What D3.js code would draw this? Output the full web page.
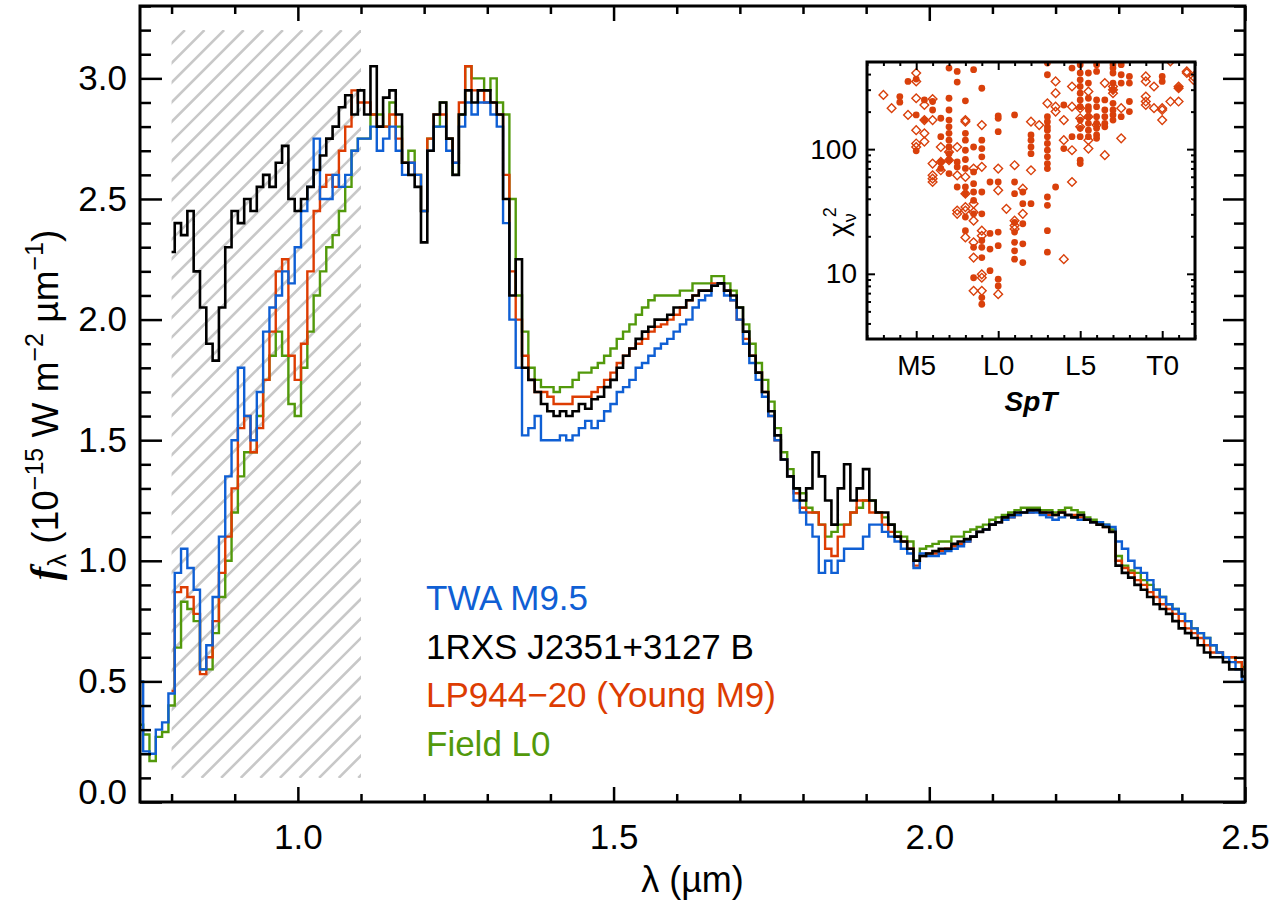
<!DOCTYPE html>
<html><head><meta charset="utf-8">
<script src="https://cdn.jsdelivr.net/npm/d3@7"></script>
<style>
body{margin:0;background:#fff}
svg{display:block}
text{font-family:"Liberation Sans",Arial,sans-serif;fill:#000}
</style>
</head><body>
<svg id="c" width="1286" height="903"></svg>
<script>
// ---------- main spectra data ----------
const wavelength = [0.75,0.76,0.77,0.78,0.79,
0.80,0.81,0.82,0.83,0.84,0.85,0.86,0.87,0.88,0.89,
0.90,0.91,0.92,0.93,0.94,0.95,0.96,0.97,0.98,0.99,
1.00,1.01,1.02,1.03,1.04,1.05,1.06,1.07,1.08,1.09,
1.10,1.11,1.12,1.13,1.14,1.15,1.16,1.17,1.18,1.19,
1.20,1.21,1.22,1.23,1.24,1.25,1.26,1.27,1.28,1.29,
1.30,1.31,1.32,1.33,1.34,1.35,1.36,1.37,1.38,1.39,
1.40,1.41,1.42,1.43,1.44,1.45,1.46,1.47,1.48,1.49,
1.50,1.51,1.52,1.53,1.54,1.55,1.56,1.57,1.58,1.59,
1.60,1.61,1.62,1.63,1.64,1.65,1.66,1.67,1.68,1.69,
1.70,1.71,1.72,1.73,1.74,1.75,1.76,1.77,1.78,1.79,
1.80,1.81,1.82,1.83,1.84,1.85,1.86,1.87,1.88,1.89,
1.90,1.91,1.92,1.93,1.94,1.95,1.96,1.97,1.98,1.99,
2.00,2.01,2.02,2.03,2.04,2.05,2.06,2.07,2.08,2.09,
2.10,2.11,2.12,2.13,2.14,2.15,2.16,2.17,2.18,2.19,
2.20,2.21,2.22,2.23,2.24,2.25,2.26,2.27,2.28,2.29,
2.30,2.31,2.32,2.33,2.34,2.35,2.36,2.37,2.38,2.39,
2.40,2.41,2.42,2.43,2.44,2.45,2.46,2.47,2.48,2.49,
2.50];

const twaM95 = [0.50,0.21,0.20,0.30,0.33,
0.45,0.95,1.05,0.97,0.88,0.55,0.65,0.85,1.10,1.35,
1.50,1.80,1.60,1.50,1.70,1.95,2.05,2.10,2.20,2.15,
2.30,2.45,2.55,2.75,2.50,2.50,2.60,2.55,2.60,2.70,
2.75,2.75,2.80,2.70,2.75,2.80,2.70,2.60,2.65,2.60,
2.45,2.70,2.80,2.80,2.70,2.65,2.80,2.90,2.85,2.90,
2.90,2.85,2.80,2.40,2.00,1.80,1.52,1.55,1.60,1.50,
1.50,1.50,1.52,1.50,1.52,1.55,1.58,1.55,1.58,1.62,
1.65,1.70,1.72,1.75,1.80,1.82,1.85,1.88,1.90,1.92,
1.95,1.98,2.00,2.05,2.08,2.10,2.14,2.15,2.10,2.08,
2.00,1.90,1.82,1.75,1.68,1.60,1.50,1.42,1.35,1.25,
1.20,1.15,1.10,0.95,1.00,0.95,1.00,1.05,1.05,1.05,
1.10,1.15,1.15,1.12,1.10,1.08,1.05,1.03,0.97,1.03,
1.02,1.02,1.03,1.04,1.05,1.06,1.08,1.10,1.12,1.13,
1.15,1.16,1.17,1.18,1.19,1.20,1.20,1.20,1.19,1.18,
1.17,1.18,1.19,1.18,1.17,1.17,1.16,1.16,1.15,1.14,
1.08,1.05,1.00,0.97,0.95,0.92,0.88,0.85,0.82,0.80,
0.78,0.75,0.72,0.70,0.68,0.65,0.62,0.60,0.58,0.55,
0.50];

const rxsJ2351B = [null,null,null,null,null,
2.28,2.40,2.35,2.45,2.20,2.05,1.90,1.83,2.05,2.30,
2.45,2.40,2.50,2.45,2.55,2.60,2.55,2.65,2.72,2.50,
2.45,2.50,2.55,2.62,2.68,2.75,2.80,2.88,2.93,2.85,
2.95,2.85,3.05,2.80,2.92,2.95,2.85,2.65,2.60,2.55,
2.32,2.70,2.85,2.90,2.75,2.60,2.85,2.95,2.90,2.95,
2.95,2.90,2.85,2.50,2.10,2.25,1.80,1.75,1.70,1.65,
1.62,1.60,1.62,1.60,1.62,1.65,1.63,1.67,1.68,1.72,
1.75,1.80,1.85,1.88,1.92,1.95,1.97,2.00,2.00,2.02,
2.05,2.05,2.08,2.10,2.12,2.12,2.14,2.15,2.12,2.10,
2.05,1.95,1.85,1.78,1.70,1.62,1.52,1.42,1.35,1.30,
1.25,1.30,1.45,1.35,1.25,1.15,1.30,1.40,1.25,1.30,
1.38,1.25,1.20,1.20,1.15,1.10,1.08,1.05,1.00,1.02,
1.03,1.04,1.05,1.05,1.07,1.08,1.09,1.10,1.12,1.13,
1.15,1.16,1.18,1.19,1.20,1.20,1.21,1.21,1.20,1.20,
1.19,1.20,1.19,1.18,1.19,1.17,1.16,1.15,1.14,1.12,
0.98,0.95,0.93,0.90,0.88,0.85,0.82,0.80,0.78,0.75,
0.72,0.70,0.68,0.65,0.62,0.60,0.60,0.58,0.55,0.55,
0.52];

const lp944 = [null,null,null,null,null,
0.46,0.87,0.89,0.85,0.78,0.53,0.60,0.75,0.95,1.10,
1.30,1.55,1.60,1.45,1.55,1.75,1.95,2.20,2.25,1.85,
1.75,1.90,2.20,2.45,2.55,2.60,2.55,2.70,2.80,2.95,
2.90,2.90,2.85,2.80,2.80,2.85,2.75,2.65,2.65,2.60,
2.45,2.75,2.85,2.85,2.75,2.65,2.90,3.05,2.95,2.95,
2.90,2.90,2.85,2.60,2.20,2.00,1.85,1.75,1.70,1.70,
1.68,1.65,1.65,1.65,1.68,1.68,1.68,1.70,1.72,1.75,
1.78,1.82,1.85,1.88,1.90,1.92,1.95,1.97,1.98,2.00,
2.02,2.05,2.08,2.10,2.12,2.12,2.15,2.15,2.12,2.08,
2.00,1.92,1.85,1.78,1.70,1.60,1.50,1.42,1.35,1.28,
1.22,1.20,1.20,1.15,1.05,1.02,1.10,1.15,1.20,1.25,
1.25,1.20,1.20,1.15,1.12,1.10,1.08,1.05,0.98,1.02,
1.03,1.03,1.04,1.05,1.06,1.07,1.08,1.10,1.12,1.13,
1.15,1.16,1.17,1.18,1.19,1.20,1.20,1.21,1.20,1.19,
1.19,1.20,1.19,1.19,1.18,1.17,1.16,1.15,1.14,1.12,
1.00,0.97,0.95,0.92,0.90,0.87,0.85,0.82,0.80,0.78,
0.75,0.72,0.70,0.68,0.65,0.62,0.62,0.60,0.60,0.58,
0.55];

const fieldL0 = [0.32,0.28,0.17,0.27,0.29,
0.40,0.64,0.83,0.80,0.75,0.55,0.55,0.70,0.85,1.00,
1.20,1.35,1.45,1.45,1.60,1.75,1.85,1.95,1.85,1.65,
1.60,1.80,1.95,2.10,2.20,2.30,2.35,2.45,2.55,2.70,
2.75,2.75,2.85,2.85,2.80,2.90,2.80,2.65,2.70,2.60,
2.45,2.75,2.80,2.90,2.75,2.60,2.85,3.05,3.00,3.00,
2.95,3.00,2.90,2.85,2.50,2.10,1.95,1.80,1.75,1.72,
1.72,1.70,1.72,1.72,1.75,1.78,1.78,1.80,1.82,1.85,
1.88,1.92,1.95,1.98,2.02,2.05,2.08,2.10,2.10,2.10,
2.10,2.12,2.12,2.15,2.15,2.15,2.18,2.18,2.15,2.12,
2.05,1.98,1.90,1.82,1.75,1.66,1.55,1.45,1.38,1.30,
1.28,1.22,1.20,1.15,1.10,1.12,1.15,1.15,1.20,1.22,
1.25,1.25,1.20,1.18,1.15,1.12,1.10,1.08,1.00,1.05,
1.06,1.07,1.08,1.08,1.10,1.10,1.12,1.13,1.14,1.15,
1.17,1.18,1.19,1.20,1.21,1.22,1.22,1.22,1.21,1.21,
1.20,1.21,1.22,1.21,1.20,1.18,1.17,1.16,1.15,1.13,
1.02,0.98,0.96,0.95,0.92,0.90,0.88,0.85,0.82,0.80,
0.78,0.75,0.72,0.70,0.68,0.65,0.62,0.60,0.60,0.58,
0.56];

const seriesNames = ["TWA M9.5","1RXS J2351+3127 B","LP944\u221220 (Young M9)","Field L0"];
const seriesColors = ["#0f5fd4","#000000","#dd3c02","#52990b"];

const xMajorTicks = [1.0,1.5,2.0,2.5];
const yMajorTicks = [0.0,0.5,1.0,1.5,2.0,2.5,3.0];
const maskedRange = [0.8, 1.1];
const maskedFlux = [0.1, 3.2];

// ---------- inset data (chi^2 vs SpT; M0=0, L0=10, T0=20) ----------
const filledSpT = [4,4,4.5,5,5,5,5.5,5.5,6,6,6.5,6.5,6.5,6.5,
7,7,7,7,7,7,7,7,7,7,7,
7.5,7.5,7.5,7.5,7.5,
8,8,8,8,8,8,8,8,8,8,
8.5,8.5,8.5,8.5,8.5,8.5,8.5,8.5,8.5,
9,9,9,9,9,9,9,9,9,9,9,
9.5,9.5,9.5,9.5,
10,10,10,10,10,10,10,10,
11,11,11,11,11,11,11,11,
11.5,11.5,11.5,11.5,11.5,
12,12,12,12,12,
13,13,13,13,13,13,13,13,13,13,13,13,13,13,13,13,
13.5,14,14,14.5,14.5,
15,15,15,15,15,15,15,15,15,15,15,15,
15.5,15.5,15.5,15.5,15.5,15.5,15.5,15.5,15.5,
16,16,16,16,16,16,16,16,16,
16.5,16.5,16.5,16.5,16.5,
17,17,17,17,17,17,17,17,17,
17.5,17.5,17.5,17.5,
18,18,18,18,
20,20,21];
const filledChi2 = [264,238,349,365,188,97,248,171,241,206,177,126,79,70,
447,256,206,171,151,134,118,104,92,81.5,63.7,
420,345,79,72,49.7,
244,134,118,98,82.6,70,49.7,43.9,28.5,22.2,
434,104,65.6,52.8,45.3,38.8,30.3,16.3,9.3,
308,118,101,86.7,45.3,30.3,18.5,16.3,13.5,6.45,5.7,
54.5,21.1,15.8,10.6,
185,177,138,54.5,21.6,16.8,9.05,8.0,
188,54.5,43.9,25.9,21.6,17.9,15.3,13.1,
45.3,36.5,25.2,17.4,12.3,
130,118,104,92,36.5,
491,395,182,166,151,142,126,111,98,86.7,76.6,69.9,41.3,35.4,22.2,14.9,
49.7,226,101,447,126,
476,408,360,318,281,248,219,171,147,126,81.5,76.6,
408,339,256,219,206,182,161,142,126,
476,420,248,219,182,161,147,130,122,
248,206,182,161,151,
476,447,408,339,299,233,206,188,171,
476,395,339,182,
383,339,241,200,
383,349,308];

const openSpT = [3,3.5,4.5,
5,5,5,5,5,5,
5.5,5.5,5.5,5.5,
6,6,6,6,6,6,
6.5,6.5,6.5,7,7,
7.5,7.5,7.5,7.5,
8,8,8,8,8,8,8,
8.5,8.5,8.5,8.5,8.5,8.5,8.5,
9,9,9,9,9,9,9,
10,10,10,10.5,
11,11,11,11,
11.5,11.5,12,12,12.5,13,
13.5,13.5,13.5,13.5,
14,14,14,
14.5,14.5,14.5,14.5,
15,15,15,
15.5,15.5,15.5,15.5,
16,16.5,16.5,17,17,17,17.5,17.5,
19,19,19,19,19,19.5,19.5,
20,20,20,20.5,20.5,21,21,21,21.5,21.5,21.9,21.9];
const openChi2 = [272,213,188,
408,349,256,142,111,104,
226,171,134,115,
252,171,76.6,61.7,58,54.5,
104,79,67.7,95,81.5,
104,61.7,32.2,30.3,
171,166,59.8,43.9,34.3,32.2,19.6,
69.9,36.5,31.2,26.7,17.9,13.5,7.3,
156,72.1,22.2,20.2,9.9,9.3,7.3,
69.9,46.7,6.86,33.2,
74.3,26.7,24.4,22.9,
48.2,30.3,166,67.7,156,233,
349,281,219,200,
171,118,13.1,
318,219,98,54.5,
213,177,151,
290,182,118,101,
156,339,89.5,318,299,281,213,122,
383,349,264,241,226,318,213,
213,206,171,506,241,318,308,241,420,408,383,360];

const insetXTicks = [5,10,15,20];
const insetXLabels = ["M5","L0","L5","T0"];
const insetYTicks = [10,100];

// ---------- drawing ----------
const svg = d3.select("#c");
const W = 1286, H = 903;
const m = {left:140, right:1245, top:6, bottom:802};

const x = d3.scaleLinear().domain([0.75,2.5]).range([m.left,m.right]);
const y = d3.scaleLinear().domain([0,3.3]).range([m.bottom,m.top]);

svg.append("rect").attr("width",W).attr("height",H).attr("fill","#fff");

// hatched masked region
const defs = svg.append("defs");
defs.append("clipPath").attr("id","hatchClip").append("rect")
  .attr("x",x(maskedRange[0])).attr("y",y(maskedFlux[1]))
  .attr("width",x(maskedRange[1])-x(maskedRange[0]))
  .attr("height",y(maskedFlux[0])-y(maskedFlux[1]));
defs.append("clipPath").attr("id","plotClip").append("rect")
  .attr("x",m.left).attr("y",m.top).attr("width",m.right-m.left).attr("height",m.bottom-m.top);

const hx0 = x(maskedRange[0]), hx1 = x(maskedRange[1]);
const hy0 = y(maskedFlux[1]), hy1 = y(maskedFlux[0]);
const hatch = svg.append("g").attr("clip-path","url(#hatchClip)");
const spacing = 19.6;
const base = 215; // x+y constant of one hatch line
for (let k = -60; k < 60; k++) {
  const c = base + k*spacing;
  if (c < hx0 + hy0 - 5 || c > hx1 + hy1 + 5) continue;
  hatch.append("line")
    .attr("x1", c - hy1).attr("y1", hy1)
    .attr("x2", c - hy0).attr("y2", hy0)
    .attr("stroke","#c8c8c8").attr("stroke-width",2.6);
}

// spectra
const line = d3.line()
  .defined(d => d[1] != null)
  .x(d => x(d[0])).y(d => y(d[1]))
  .curve(d3.curveStep);

const allSeries = [twaM95, rxsJ2351B, lp944, fieldL0];
const drawOrder = [3,2,0,1];
const specG = svg.append("g").attr("clip-path","url(#plotClip)");
drawOrder.forEach(i => {
  const pts = wavelength.map((w,j) => [w, allSeries[i][j]]);
  specG.append("path").datum(pts)
    .attr("d", line)
    .attr("fill","none")
    .attr("stroke", seriesColors[i])
    .attr("stroke-width", i===1 ? 2.6 : 2.4)
    .attr("stroke-linejoin","miter");
});

// axes
function styleAxis(g){
  g.select(".domain").remove();
  g.selectAll(".tick line").attr("stroke","#000").attr("stroke-width",2.5);
  g.selectAll(".tick text").attr("font-size",35).attr("font-family","'Liberation Sans',Arial,sans-serif");
}
const xMinor = d3.range(8,26).map(v => v/10).filter(v => !xMajorTicks.some(t => Math.abs(t-v)<1e-6));
const yMinor = d3.range(0,34).map(v => v/10).filter(v => !yMajorTicks.some(t => Math.abs(t-v)<1e-6));

svg.append("g").attr("transform",`translate(0,${m.bottom})`)
  .call(d3.axisBottom(x).tickValues(xMajorTicks).tickSize(-15).tickPadding(22).tickFormat(d3.format(".1f")))
  .call(styleAxis);
svg.append("g").attr("transform",`translate(0,${m.bottom})`)
  .call(d3.axisBottom(x).tickValues(xMinor).tickSize(-8).tickFormat(""))
  .call(styleAxis);
svg.append("g").attr("transform",`translate(0,${m.top})`)
  .call(d3.axisTop(x).tickValues(xMajorTicks).tickSize(-15).tickFormat(""))
  .call(styleAxis);
svg.append("g").attr("transform",`translate(0,${m.top})`)
  .call(d3.axisTop(x).tickValues(xMinor).tickSize(-8).tickFormat(""))
  .call(styleAxis);

const yAxisG = svg.append("g").attr("transform",`translate(${m.left},0)`)
  .call(d3.axisLeft(y).tickValues(yMajorTicks).tickSize(-22).tickPadding(13).tickFormat(d3.format(".1f")))
  .call(styleAxis);
yAxisG.selectAll(".tick text").filter(d => d === 0).attr("dy","0.05em");
svg.append("g").attr("transform",`translate(${m.left},0)`)
  .call(d3.axisLeft(y).tickValues(yMinor).tickSize(-11).tickFormat(""))
  .call(styleAxis);
svg.append("g").attr("transform",`translate(${m.right},0)`)
  .call(d3.axisRight(y).tickValues(yMajorTicks).tickSize(-22).tickFormat(""))
  .call(styleAxis);
svg.append("g").attr("transform",`translate(${m.right},0)`)
  .call(d3.axisRight(y).tickValues(yMinor).tickSize(-11).tickFormat(""))
  .call(styleAxis);

// frame
svg.append("rect").attr("x",m.left).attr("y",m.top)
  .attr("width",m.right-m.left).attr("height",m.bottom-m.top)
  .attr("fill","none").attr("stroke","#000").attr("stroke-width",3);

// axis titles
const xt = svg.append("text").attr("x",(m.left+m.right)/2).attr("y",892)
  .attr("text-anchor","middle").attr("font-size",36);
xt.text("\u03bb (\u00b5m)");

const yt = svg.append("text")
  .attr("transform","translate(58,405) rotate(-90)")
  .attr("text-anchor","middle").attr("font-size",37);
yt.append("tspan").attr("font-family","'Liberation Serif',serif").attr("font-style","italic").attr("font-weight","bold").attr("font-size",40).text("f");
yt.append("tspan").attr("font-size",26).attr("dy",8).text("\u03bb");
yt.append("tspan").attr("dy",-8).text(" (10");
yt.append("tspan").attr("font-size",25).attr("dy",-15).text("\u221215");
yt.append("tspan").attr("dy",15).text(" W m");
yt.append("tspan").attr("font-size",25).attr("dy",-15).text("\u22122");
yt.append("tspan").attr("dy",15).text(" \u00b5m");
yt.append("tspan").attr("font-size",25).attr("dy",-15).text("\u22121");
yt.append("tspan").attr("dy",15).text(")");

// legend
seriesNames.forEach((n,i) => {
  svg.append("text").attr("x",426).attr("y",610 + i*48.5)
    .attr("font-size",35).style("fill",seriesColors[i]).text(n);
});

// ---------- inset ----------
const ib = {left:867, right:1195, top:62, bottom:339};
const xi = d3.scaleLinear().domain([2,22]).range([ib.left,ib.right]);
const yi = d3.scaleLog().domain([3,500]).range([ib.bottom,ib.top]);
const insetColor = "#d9400b";

svg.append("rect").attr("x",ib.left).attr("y",ib.top)
  .attr("width",ib.right-ib.left).attr("height",ib.bottom-ib.top).attr("fill","#fff");
defs.append("clipPath").attr("id","insetClip").append("rect")
  .attr("x",ib.left).attr("y",ib.top).attr("width",ib.right-ib.left).attr("height",ib.bottom-ib.top);

const ig = svg.append("g").attr("clip-path","url(#insetClip)");
const diamond = d3.symbol().type(d3.symbolSquare).size(38);
ig.selectAll("path.open").data(openSpT.map((s,i)=>[s,openChi2[i]])).join("path")
  .attr("class","open")
  .attr("transform",d=>`translate(${xi(d[0])},${yi(d[1])}) rotate(45)`)
  .attr("d",diamond).attr("fill","none").attr("stroke",insetColor).attr("stroke-width",1.4);
ig.selectAll("circle.fill").data(filledSpT.map((s,i)=>[s,filledChi2[i]])).join("circle")
  .attr("class","fill")
  .attr("cx",d=>xi(d[0])).attr("cy",d=>yi(d[1])).attr("r",3.4).attr("fill",insetColor);

function styleInset(g){
  g.select(".domain").remove();
  g.selectAll(".tick line").attr("stroke","#000").attr("stroke-width",2);
  g.selectAll(".tick text").attr("font-size",28).attr("font-family","'Liberation Sans',Arial,sans-serif");
}
const ixMinor = d3.range(2,23).filter(v => !insetXTicks.includes(v));
const iyMinor = [4,5,6,7,8,9,20,30,40,50,60,70,80,90,200,300,400];

svg.append("g").attr("transform",`translate(0,${ib.bottom})`)
  .call(d3.axisBottom(xi).tickValues(insetXTicks).tickSize(-8).tickPadding(16).tickFormat((d,i)=>insetXLabels[i]))
  .call(styleInset);
svg.append("g").attr("transform",`translate(0,${ib.bottom})`)
  .call(d3.axisBottom(xi).tickValues(ixMinor).tickSize(-4).tickFormat("")).call(styleInset);
svg.append("g").attr("transform",`translate(0,${ib.top})`)
  .call(d3.axisTop(xi).tickValues(insetXTicks).tickSize(-8).tickFormat("")).call(styleInset);
svg.append("g").attr("transform",`translate(0,${ib.top})`)
  .call(d3.axisTop(xi).tickValues(ixMinor).tickSize(-4).tickFormat("")).call(styleInset);

svg.append("g").attr("transform",`translate(${ib.left},0)`)
  .call(d3.axisLeft(yi).tickValues(insetYTicks).tickSize(-8).tickPadding(10).tickFormat(d3.format("d")))
  .call(styleInset);
svg.append("g").attr("transform",`translate(${ib.left},0)`)
  .call(d3.axisLeft(yi).tickValues(iyMinor).tickSize(-4).tickFormat("")).call(styleInset);
svg.append("g").attr("transform",`translate(${ib.right},0)`)
  .call(d3.axisRight(yi).tickValues(insetYTicks).tickSize(-8).tickFormat("")).call(styleInset);
svg.append("g").attr("transform",`translate(${ib.right},0)`)
  .call(d3.axisRight(yi).tickValues(iyMinor).tickSize(-4).tickFormat("")).call(styleInset);

svg.append("rect").attr("x",ib.left).attr("y",ib.top)
  .attr("width",ib.right-ib.left).attr("height",ib.bottom-ib.top)
  .attr("fill","none").attr("stroke","#000").attr("stroke-width",3);

svg.append("text").attr("x",(ib.left+ib.right)/2).attr("y",411)
  .attr("text-anchor","middle").attr("font-size",28)
  .attr("font-family","'Liberation Serif',serif").attr("font-style","italic").attr("font-weight","bold")
  .text("SpT");

const cy = svg.append("text").attr("transform","translate(848,222) rotate(-90)")
  .attr("text-anchor","middle").attr("font-size",28);
cy.append("tspan").text("\u03c7");
cy.append("tspan").attr("font-size",18).attr("dy",8).text("\u03bd");
cy.append("tspan").attr("font-size",18).attr("dy",-20).attr("dx",-4).text("2");
</script>
</body></html>
